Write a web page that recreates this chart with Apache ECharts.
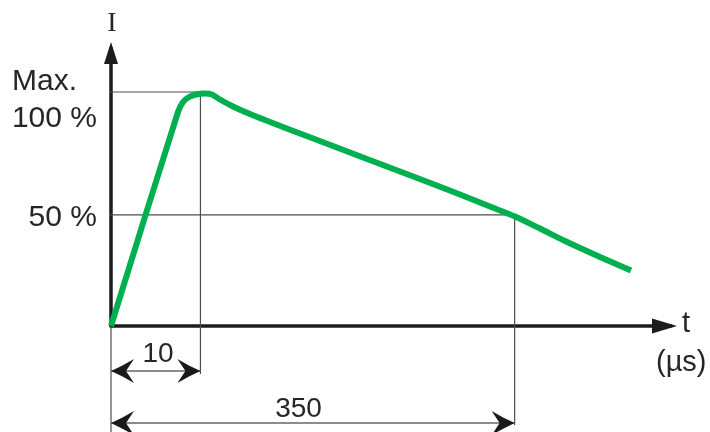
<!DOCTYPE html>
<html><head><meta charset="utf-8">
<script src="https://cdn.jsdelivr.net/npm/echarts@6/dist/echarts.min.js"></script>
<style>html,body{margin:0;padding:0;background:#fff}#c{width:710px;height:432px}</style>
</head><body><div id="c"></div>
<script>
// Schematic time position along the drawn t axis (linear drawing units) and current in % of max
const curveT = [0, 12.08, 12.99, 14.07, 15.33, 16.95, 18.22, 19.66, 22.0, 25.07, 28.14, 34.09, 40.04, 46.17, 52.13, 58.07, 62.94, 68.35, 72.86, 77.37, 81.88, 88.2, 93.79];
const curveI = [0, 91.45, 95.72, 97.86, 98.93, 99.35, 98.93, 96.79, 93.8, 90.59, 87.69, 82.26, 76.92, 71.36, 66.02, 60.68, 56.19, 51.07, 46.79, 41.66, 36.32, 29.49, 23.72];
// reference levels (drawn positions) and their labels
const levelValues = [100, 47.45];
const levelLabels = ['100 %', '50 %'];
const maxCaption = 'Max.';
// time marks (drawn positions) and their labels in µs
const markT = [16.13, 72.8];
const markLabels = ['10', '350'];
// dimension line rows (below the t axis) and extension line ends
const dimRows = [-19.2, -41.5];
const extEnds = [-20.5, -42.3];
const originExtEnd = -45.3;
const guideStart = -1.44;
const axisNames = ['t', '(µs)', 'I'];

const chart = echarts.init(document.getElementById('c'), null, {renderer: 'canvas'});
const GREEN = '#00B050', AXIS = '#1c1c1c', GUIDE = '#4d4d4d', TEXT = '#262626';
const SANS = '"Liberation Sans", Arial, sans-serif';

const guideSeries = levelValues.map((v, i) => ({
  type: 'line', silent: true, clip: false, symbol: 'none', z: 3, animation: false,
  lineStyle: {color: GUIDE, width: 1.2},
  data: [[guideStart, v], [markT[i], v], [markT[i], extEnds[i]]]
}));

chart.setOption({
  animation: false,
  backgroundColor: '#fff',
  grid: {left: 111, top: 48, width: 560, height: 278},
  xAxis: {type: 'value', min: 0, max: 101,
    axisLine: {show: true, onZero: false, lineStyle: {color: AXIS, width: 3.5},
      symbol: ['none', 'triangle'], symbolSize: [15, 25], symbolOffset: [0, -6.5]},
    axisTick: {show: false}, axisLabel: {show: false}, splitLine: {show: false}},
  yAxis: {type: 'value', min: 0, max: 118.8,
    axisLine: {show: true, onZero: false, lineStyle: {color: AXIS, width: 3.5},
      symbol: ['none', 'triangle'], symbolSize: [14, 22], symbolOffset: [0, -5]},
    axisTick: {show: false}, axisLabel: {show: false}, splitLine: {show: false}},
  series: [
    ...guideSeries,
    {type: 'line', silent: true, clip: false, symbol: 'none', z: 3,
      lineStyle: {color: GUIDE, width: 1.2}, data: [[0, 0], [0, originExtEnd]]},
    {type: 'custom', silent: true, clip: false, z: 4,
      encode: {x: [0, 1], y: 2},
      data: dimRows.map((y, i) => [0, markT[i], y]),
      renderItem: function (params, api) {
        const a = api.coord([api.value(0), api.value(2)]);
        const b = api.coord([api.value(1), api.value(2)]);
        const L = 23, W = 12, N = 15;
        const head = (p, d) => [[p[0], p[1]], [p[0] + d * L * 0.5, p[1] - W * 0.46], [p[0] + d * L, p[1] - W],
          [p[0] + d * N, p[1]], [p[0] + d * L, p[1] + W], [p[0] + d * L * 0.5, p[1] + W * 0.46]];
        return {type: 'group', children: [
          {type: 'line', shape: {x1: a[0], y1: a[1], x2: b[0], y2: b[1]}, style: {stroke: '#666', lineWidth: 1.5}},
          {type: 'polygon', shape: {points: head(a, 1)}, style: {fill: '#1a1a1a'}},
          {type: 'polygon', shape: {points: head(b, -1)}, style: {fill: '#1a1a1a'}}
        ]};
      }},
    {type: 'line', silent: true, clip: false, symbol: 'none', z: 6, smooth: 0.25,
      lineStyle: {color: GREEN, width: 6},
      data: curveT.map((t, i) => [t, curveI[i]])}
  ]
});

function txt(text, x, y, size, align, family) {
  return {type: 'text', x: x, y: y, z: 10, silent: true,
    style: {text: text, font: size + 'px ' + (family || SANS), fill: TEXT,
      textAlign: align, align: align, textVerticalAlign: 'middle', verticalAlign: 'middle'}};
}
chart.setOption({graphic: [
  txt(axisNames[2], 112, 23.5, 28, 'center', '"Liberation Serif", serif'),
  txt(maxCaption, 12, 81.7, 30, 'left'),
  txt(levelLabels[0], 97, 118.7, 30, 'right'),
  txt(levelLabels[1], 97, 217.7, 30, 'right'),
  txt(axisNames[0], 682, 324, 29, 'left'),
  txt(axisNames[1], 656, 363, 29, 'left'),
  txt(markLabels[0], 158, 354.3, 28, 'center'),
  txt(markLabels[1], 298.5, 409.3, 28, 'center')
]});
</script></body></html>
